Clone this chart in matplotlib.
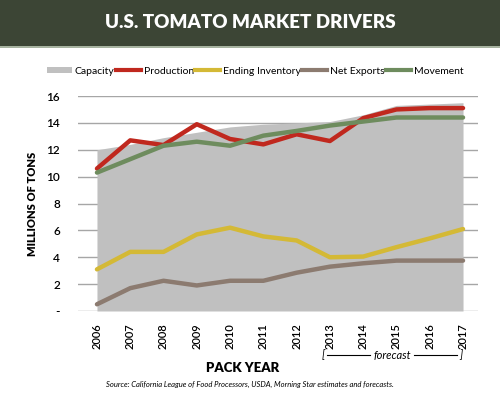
import matplotlib
matplotlib.use("Agg")
import matplotlib.pyplot as plt
from matplotlib.lines import Line2D
from matplotlib.patches import Rectangle, Patch

# data (millions of tons)
years = [2006, 2007, 2008, 2009, 2010, 2011, 2012, 2013, 2014, 2015, 2016, 2017]
capacity = [12.0, 12.4, 12.9, 13.3, 13.7, 13.9, 14.0, 14.1, 14.6, 15.3, 15.4, 15.5]
production = [10.6, 12.7, 12.35, 13.9, 12.8, 12.4, 13.15, 12.65, 14.35, 15.0, 15.1, 15.1]
ending_inventory = [3.1, 4.4, 4.4, 5.7, 6.2, 5.55, 5.25, 4.0, 4.05, 4.75, 5.4, 6.1]
net_exports = [0.5, 1.7, 2.25, 1.9, 2.25, 2.25, 2.85, 3.3, 3.55, 3.75, 3.75, 3.75]
movement = [10.3, 11.3, 12.3, 12.6, 12.3, 13.05, 13.4, 13.8, 14.1, 14.4, 14.4, 14.4]
y_ticks = [0, 2, 4, 6, 8, 10, 12, 14, 16]
y_labels = ["-", "2", "4", "6", "8", "10", "12", "14", "16"]

FONT = "Lato"
W, H = 500, 393

fig = plt.figure(figsize=(5, 3.93), dpi=100)
fig.patch.set_facecolor("white")

# header band
fig.patches.append(Rectangle((0, 1 - 46 / H), 1, 46 / H, transform=fig.transFigure,
                             facecolor="#3c4535", edgecolor="none", zorder=0))
fig.patches.append(Rectangle((0, 1 - 48 / H), 1, 2 / H, transform=fig.transFigure,
                             facecolor="#a7b3a0", edgecolor="none", zorder=0))
fig.text(0.5, 1 - 23 / H, "U.S. TOMATO MARKET DRIVERS", color="white", fontsize=13.5,
         fontweight="heavy", ha="center", va="center", family=FONT)

ax = fig.add_axes([78 / W, 1 - 311 / H, 400 / W, 215 / H])
ax.fill_between(years, 0, capacity, color="#c0c0c0", linewidth=0, zorder=2)
ax.plot(years, production, color="#c0281e", lw=3.2, solid_capstyle="round", zorder=4)
ax.plot(years, ending_inventory, color="#d4b936", lw=3.2, solid_capstyle="round", zorder=4)
ax.plot(years, net_exports, color="#8c7b70", lw=3.2, solid_capstyle="round", zorder=4)
ax.plot(years, movement, color="#6e8c5e", lw=3.2, solid_capstyle="round", zorder=5)

ax.set_xlim(2005.43, 2017.45)
ax.set_ylim(0, 16)
ax.set_yticks(y_ticks)
ax.set_yticklabels(y_labels, fontsize=8.5, family=FONT, fontweight="semibold")
ax.set_xticks(years)
ax.set_xticklabels([str(y) for y in years], rotation=90, fontsize=8, family=FONT,
                   fontweight="semibold")
ax.tick_params(length=0, pad=13)
ax.tick_params(axis="x", pad=9)
for s in ax.spines.values():
    s.set_visible(False)
ax.yaxis.grid(True, color="#a6a6a6", lw=1)
ax.set_axisbelow(True)

ax.set_ylabel("MILLIONS OF TONS", fontsize=8, fontweight="heavy", family=FONT, labelpad=6)
fig.text(243 / W, 1 - 368 / H, "PACK YEAR", fontsize=9.5, fontweight="heavy",
         ha="center", va="center", family=FONT)

# forecast bracket
yb = 1 - 355 / H
fig.text(323 / W, yb, "[", fontsize=8, style="italic", ha="center", va="center", family=FONT)
fig.text(461 / W, yb, "]", fontsize=8, style="italic", ha="center", va="center", family=FONT)
fig.text(392 / W, yb, "forecast", fontsize=8, style="italic", ha="center", va="center", family=FONT)
fig.add_artist(Line2D([327 / W, 370 / W], [yb, yb], color="black", lw=0.8))
fig.add_artist(Line2D([414 / W, 457 / W], [yb, yb], color="black", lw=0.8))

fig.text(250 / W, 1 - 384 / H,
         "Source: California League of Food Processors, USDA, Morning Star estimates and forecasts.",
         fontsize=5.5, style="italic", ha="center", va="center", family=FONT)

handles = [Patch(facecolor="#c0c0c0", edgecolor="none"),
           Line2D([], [], color="#c0281e", lw=3),
           Line2D([], [], color="#d4b936", lw=3),
           Line2D([], [], color="#8c7b70", lw=3),
           Line2D([], [], color="#6e8c5e", lw=3)]
labels = ["Capacity", "Production", "Ending Inventory", "Net Exports", "Movement"]
fig.legend(handles, labels, loc="center", bbox_to_anchor=(255 / W, 1 - 71 / H), ncol=5,
           frameon=False, handlelength=2.4, handleheight=0.5, handletextpad=0.3,
           columnspacing=0.1, prop={"family": FONT, "size": 7.5})

fig.savefig("out.png", dpi=100)
